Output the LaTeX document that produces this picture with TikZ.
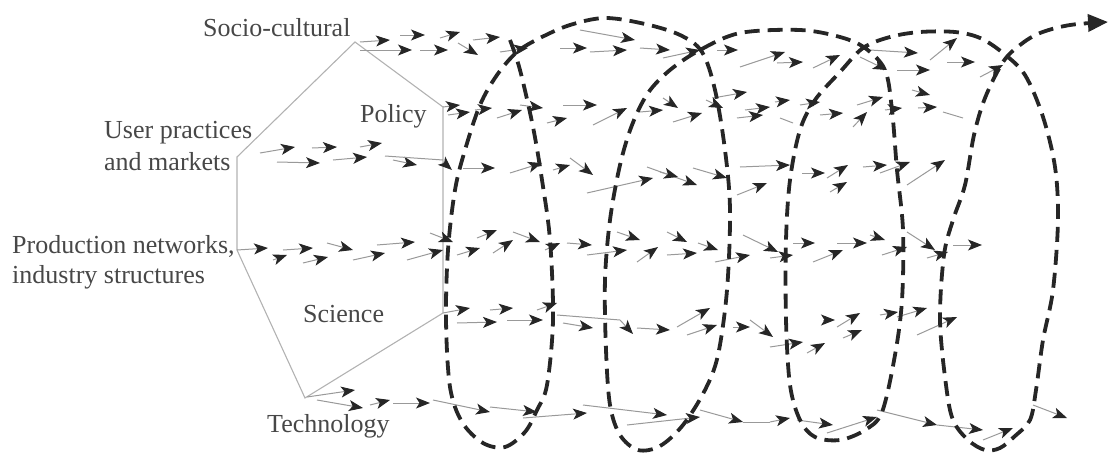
\documentclass[tikz,border=0pt]{standalone}
\usepackage{fontspec}
\setmainfont{Liberation Serif}
\usetikzlibrary{arrows.meta}
\newcommand{\arw}[4]{\draw[flow] (#1,#2) -- (#3,#4);}
\begin{document}
\begin{tikzpicture}[x=1pt,y=-1pt,
  hex/.style={draw=black!30,line width=1.1pt},
  flow/.style={draw=black!40,line width=1pt,-{Stealth[length=14pt,width=11pt,inset=3.5pt,color=black!85]}},
  plain/.style={draw=black!40,line width=1pt},
  spiral/.style={draw=black!85,line width=3.8pt,dash pattern=on 15pt off 8pt},
  lbl/.style={font=\fontsize{26}{28}\selectfont,text=black!72,inner sep=0pt,anchor=base west}]
\useasboundingbox (0,0) rectangle (1111,455);

% hexagon
\draw[hex] (237,157) -- (355,42) -- (443,107) -- (443,313) -- (305,398) -- (237,250) -- cycle;

% labels
\node[lbl] (soc) at (203,36) {Socio-cultural};
\node[lbl] (pol) at (360,122) {Policy};
\node[lbl] (usr1) at (104,138) {User practices};
\node[lbl] (usr2) at (104,170) {and markets};
\node[lbl] (prod1) at (12,253) {Production networks,};
\node[lbl] (prod2) at (12,283) {industry structures};
\node[lbl] (sci) at (303,322) {Science};
\node[lbl] (tech) at (267,432) {Technology};

% row 1 : socio-cultural
\arw{360}{42}{390}{40}
\arw{360}{50}{412}{50}
\arw{400}{35}{425}{35}
\arw{420}{50}{448}{50}
\arw{440}{38}{460}{32}
\arw{458}{43}{478}{55}
\arw{473}{40}{500}{37}
\arw{500}{52}{528}{48}
\arw{560}{48}{587}{48}
\arw{580}{30}{635}{40}
\arw{590}{52}{627}{50}
\arw{640}{48}{670}{50}
\arw{663}{58}{700}{50}
\arw{717}{50}{738}{50}
\arw{740}{67}{785}{52}
\arw{777}{63}{803}{62}
\arw{813}{68}{840}{55}
\arw{870}{50}{918}{53}
\arw{860}{57}{887}{70}
\arw{897}{70}{930}{70}
\arw{930}{60}{957}{38}
\arw{947}{62}{975}{62}
\arw{980}{77}{1003}{65}

% row 2 : policy
\arw{443}{107}{460}{105}
\arw{448}{115}{470}{112}
\arw{475}{110}{492}{108}
\arw{497}{118}{522}{110}
\arw{520}{105}{543}{108}
\arw{547}{123}{567}{118}
\arw{563}{105}{597}{105}
\arw{593}{125}{627}{108}
\arw{640}{112}{663}{110}
\arw{663}{98}{678}{108}
\arw{673}{122}{702}{113}
\arw{713}{98}{747}{92}
\arw{706}{100}{723}{108}
\arw{737}{118}{763}{115}
\arw{745}{110}{770}{107}
\arw{775}{102}{790}{100}
\draw[plain] (780,118) -- (793,123);
\arw{800}{105}{820}{102}
\arw{820}{115}{843}{113}
\arw{853}{127}{867}{112}
\arw{857}{105}{883}{97}
\arw{885}{110}{902}{108}
\arw{912}{90}{930}{95}
\arw{918}{108}{937}{107}
\draw[plain] (943,112) -- (963,118);

% row 3 : user practices
\arw{260}{153}{295}{147}
\arw{277}{162}{320}{163}
\arw{312}{148}{337}{147}
\arw{333}{160}{367}{157}
\arw{360}{147}{382}{143}
\arw{393}{160}{417}{165}
\draw[plain] (385,156) -- (443,160);
\arw{443}{162}{452}{170}
\arw{463}{168}{495}{168}
\arw{510}{173}{542}{163}
\arw{553}{170}{570}{165}
\arw{570}{158}{593}{175}
\arw{587}{193}{653}{178}
\arw{647}{167}{697}{185}
\arw{660}{172}{678}{177}
\arw{693}{168}{727}{178}
\arw{737}{195}{767}{183}
\arw{740}{167}{790}{165}
\arw{802}{173}{825}{173}
\arw{827}{178}{848}{165}
\arw{830}{192}{847}{182}
\arw{863}{167}{887}{165}
\arw{880}{173}{910}{162}
\arw{907}{185}{945}{160}

% row 4 : production networks
\arw{237}{250}{268}{248}
\arw{273}{260}{287}{255}
\arw{283}{250}{313}{248}
\arw{303}{263}{328}{257}
\arw{327}{243}{353}{250}
\arw{353}{260}{385}{253}
\arw{377}{245}{415}{242}
\arw{407}{260}{443}{250}
\arw{430}{233}{453}{242}
\arw{457}{255}{480}{248}
\arw{477}{238}{497}{230}
\arw{493}{253}{513}{240}
\arw{513}{232}{540}{242}
\arw{545}{250}{560}{243}
\arw{567}{243}{592}{245}
\arw{587}{255}{627}{250}
\arw{617}{232}{640}{240}
\arw{637}{262}{658}{247}
\arw{667}{232}{687}{242}
\arw{667}{255}{697}{253}
\arw{698}{243}{718}{250}
\arw{715}{262}{750}{255}
\arw{743}{235}{778}{252}
\arw{770}{258}{793}{255}
\arw{793}{243}{815}{243}
\arw{813}{262}{843}{250}
\arw{837}{243}{867}{243}
\arw{870}{235}{885}{240}
\arw{882}{255}{907}{247}
\arw{907}{232}{935}{250}
\arw{927}{258}{948}{252}
\arw{953}{245}{982}{245}

% row 5 : science
\arw{443}{313}{470}{308}
\arw{490}{310}{513}{308}
\arw{457}{323}{497}{322}
\arw{507}{320}{543}{320}
\arw{537}{310}{557}{303}
\arw{563}{323}{593}{328}
\draw[flow] (557,315) -- (620,320) -- (633,334);
\arw{637}{328}{670}{330}
\arw{677}{327}{710}{308}
\arw{687}{335}{717}{325}
\arw{733}{327}{750}{327}
\arw{750}{320}{773}{337}
\arw{770}{347}{803}{342}
\arw{807}{353}{825}{343}
\arw{823}{320}{835}{320}
\arw{837}{327}{860}{313}
\arw{843}{338}{862}{330}
\arw{880}{315}{898}{312}
\arw{897}{317}{927}{308}
\arw{917}{335}{957}{317}

% row 6 : technology
\arw{307}{397}{355}{390}
\arw{317}{400}{363}{408}
\arw{370}{405}{390}{400}
\arw{393}{403}{430}{403}
\arw{433}{400}{490}{412}
\arw{490}{407}{537}{412}
\arw{523}{418}{587}{413}
\arw{583}{405}{667}{415}
\arw{627}{425}{700}{417}
\arw{700}{410}{743}{422}
\draw[plain] (743,422) -- (770,422);
\arw{770}{422}{790}{418}
\arw{797}{420}{833}{425}
\arw{827}{433}{877}{417}
\arw{877}{410}{937}{425}
\arw{937}{425}{983}{430}
\arw{983}{440}{1013}{428}
\arw{1033}{405}{1067}{418}

% the spiral
\draw[spiral,-{Triangle[length=20pt,width=17pt]}] plot[smooth,tension=0.55] coordinates {
 (510,40) (520,70) (533,127) (542,180) (550,240) (553,320) (547,385) (537,410)
 (525,432) (505,447) (483,443) (462,422) (450,387) (446,320) (448,250) (455,190)
 (465,150) (480,105) (497,75) (517,52) (540,38) (570,25) (605,18) (645,24)
 (680,35) (702,52) (715,90) (725,150) (730,210) (727,290) (718,355) (705,390)
 (683,425) (660,446) (638,450) (620,435) (610,405) (606,350) (605,280) (610,220)
 (620,165) (632,125) (648,93) (670,70) (700,50) (740,33) (800,30) (840,37)
 (865,48) (885,70) (892,110) (897,170) (903,230) (902,300) (895,355) (882,412)
 (865,430) (840,440) (815,437) (800,420) (790,385) (786,320) (786,240) (790,180)
 (800,130) (815,100) (840,72) (863,48) (890,37) (920,32) (955,32) (980,38)
 (1003,53) (1025,75) (1043,117) (1055,167) (1058,220) (1053,290) (1043,340) (1036,390)
 (1030,420) (1015,436) (1000,448) (985,450) (968,440) (953,420) (946,385) (940,320)
 (944,255) (953,220) (965,185) (974,135) (985,98) (1003,62) (1020,45) (1040,33)
 (1070,25) (1108,22)};
\end{tikzpicture}
\end{document}
